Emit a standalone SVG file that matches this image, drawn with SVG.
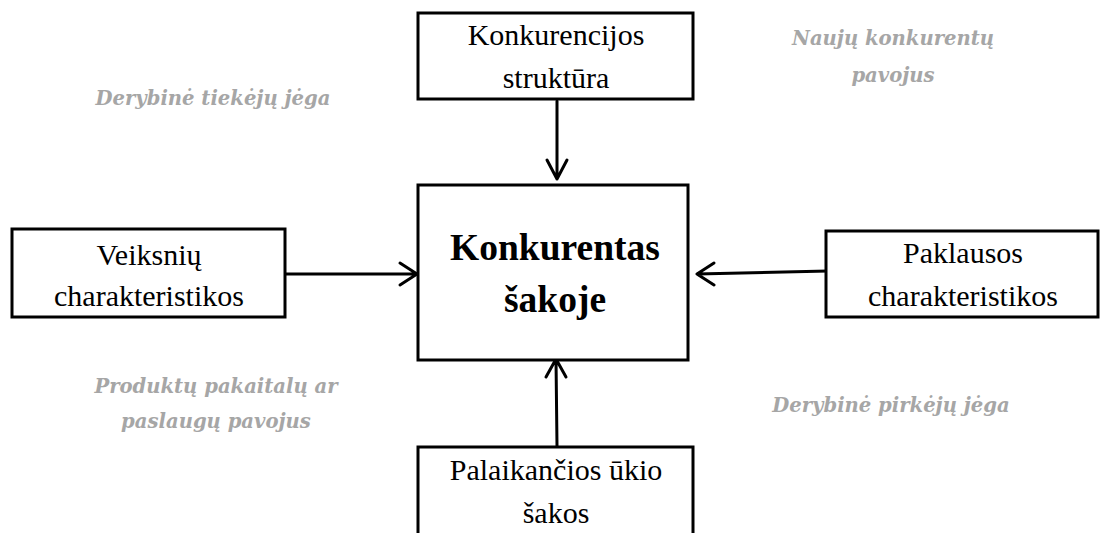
<svg xmlns="http://www.w3.org/2000/svg" width="1100" height="533" viewBox="0 0 1100 533">
<style>
.box{fill:#fff;stroke:#000;stroke-width:3}
.t{font-family:"Liberation Serif","Times New Roman",serif;font-size:30px;fill:#000;text-anchor:middle}
.tb{font-family:"Liberation Serif","Times New Roman",serif;font-size:37.5px;font-weight:bold;fill:#000;text-anchor:middle}
.g{font-family:"DejaVu Serif",serif;font-size:19.6px;font-weight:bold;font-style:italic;fill:#a6a6a6;text-anchor:middle}
.c{fill:none;stroke:#000;stroke-width:3;stroke-linecap:round;stroke-linejoin:round}
</style>
<rect width="1100" height="533" fill="#fff"/>
<g id="labels">
<text class="g" x="213" y="105">Derybinė tiekėjų jėga</text>
<text class="g" x="893" y="45">Naujų konkurentų</text>
<text class="g" x="893" y="82">pavojus</text>
<text class="g" x="216" y="393">Produktų pakaitalų ar</text>
<text class="g" x="216" y="428">paslaugų pavojus</text>
<text class="g" x="891" y="412">Derybinė pirkėjų jėga</text>
</g>
<g id="connectors">
<path class="c" d="M557 101 V179 M547 160 L557 179 L567 160"/>
<path class="c" d="M286 274 H417 M400 263 L417 274 L400 285"/>
<path class="c" d="M828 271 L697 274 M714 263 L697 274 L714 285"/>
<path class="c" d="M557 446 L556 359 M546 377 L556 359 L566 377"/>
</g>
<g id="n-top">
<rect class="box" x="418" y="13" width="275" height="86"/>
<text class="t" x="556" y="45">Konkurencijos</text>
<text class="t" x="556" y="88">struktūra</text>
</g>
<g id="n-center">
<rect class="box" x="418" y="185" width="270" height="175"/>
<text class="tb" x="555" y="260">Konkurentas</text>
<text class="tb" x="555" y="312">šakoje</text>
</g>
<g id="n-left">
<rect class="box" x="12" y="229" width="273" height="88"/>
<text class="t" x="149" y="265">Veiksnių</text>
<text class="t" x="149" y="306">charakteristikos</text>
</g>
<g id="n-right">
<rect class="box" x="826" y="231" width="272" height="86"/>
<text class="t" x="963" y="263">Paklausos</text>
<text class="t" x="963" y="306">charakteristikos</text>
</g>
<g id="n-bottom">
<rect class="box" x="418" y="447" width="275" height="100"/>
<text class="t" x="556" y="480">Palaikančios ūkio</text>
<text class="t" x="556" y="523">šakos</text>
</g>
</svg>
